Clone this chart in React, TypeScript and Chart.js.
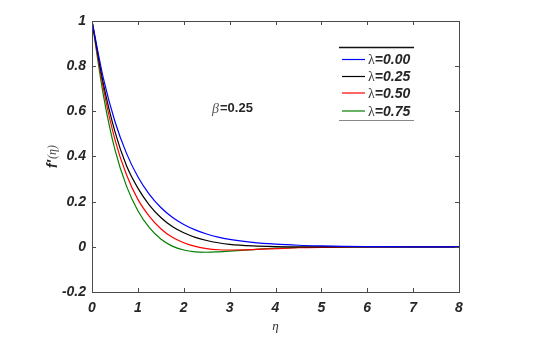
import React, { useEffect, useRef } from "react";
import { Chart, registerables } from "chart.js";

Chart.register(...registerables);

// ---- data ----
const eta = [0, 0.25, 0.5, 0.75, 1, 1.25, 1.5, 1.75, 2, 2.25, 2.5, 2.75, 3, 3.5, 4, 4.5, 5, 5.5, 6, 7, 8];
const lambda000 = [1, 0.745, 0.555, 0.415, 0.31, 0.232, 0.174, 0.131, 0.099, 0.075, 0.057, 0.043, 0.033, 0.02, 0.012, 0.007, 0.004, 0.002, 0.001, 0, 0];
const lambda025 = [1, 0.72, 0.51, 0.36, 0.26, 0.185, 0.13, 0.09, 0.062, 0.042, 0.028, 0.018, 0.011, 0.004, 0.001, 0, 0, 0, 0, 0, 0];
const lambda050 = [1, 0.7, 0.475, 0.32, 0.21, 0.135, 0.08, 0.042, 0.018, 0.002, -0.008, -0.013, -0.014, -0.012, -0.008, -0.004, -0.002, -0.001, 0, 0, 0];
const lambda075 = [1, 0.67, 0.43, 0.27, 0.16, 0.085, 0.035, 0.003, -0.014, -0.022, -0.024, -0.022, -0.019, -0.012, -0.006, -0.003, -0.001, 0, 0, 0, 0];

const seriesValues = [lambda000, lambda025, lambda050, lambda075];
const seriesLabels = ["0.00", "0.25", "0.50", "0.75"];
const seriesColors = ["#0000ff", "#000000", "#ff0000", "#008000"];

const xTicks = [0, 1, 2, 3, 4, 5, 6, 7, 8];
const yTicks = [-0.2, 0, 0.2, 0.4, 0.6, 0.8, 1];
const xTitle = "η";
const yTitleMain = "f'";
const yTitleArg = "(η)";
const annotationSymbol = "β";
const annotationValue = "=0.25";

const AXIS_COLOR = "#4a4a4a";
const TEXT_COLOR = "#262626";

const decorPlugin = {
  id: "matlabDecor",
  afterDraw(chart: any) {
    const { ctx, chartArea: a, scales } = chart;
    const xs = scales.x;
    const ys = scales.y;
    ctx.save();
    // box
    ctx.strokeStyle = AXIS_COLOR;
    ctx.lineWidth = 1;
    ctx.strokeRect(Math.round(a.left) + 0.5, Math.round(a.top) + 0.5, Math.round(a.right - a.left), Math.round(a.bottom - a.top));
    // inward ticks
    const tl = 4;
    ctx.beginPath();
    xTicks.forEach((v) => {
      const px = Math.round(xs.getPixelForValue(v)) + 0.5;
      ctx.moveTo(px, a.bottom);
      ctx.lineTo(px, a.bottom - tl);
      ctx.moveTo(px, a.top);
      ctx.lineTo(px, a.top + tl);
    });
    yTicks.forEach((v) => {
      const py = Math.round(ys.getPixelForValue(v)) + 0.5;
      ctx.moveTo(a.left, py);
      ctx.lineTo(a.left + tl, py);
      ctx.moveTo(a.right, py);
      ctx.lineTo(a.right - tl, py);
    });
    ctx.stroke();

    // x title
    ctx.fillStyle = "#333";
    ctx.font = "italic 13px 'Liberation Serif'";
    ctx.textAlign = "center";
    ctx.textBaseline = "middle";
    ctx.fillText(xTitle, (a.left + a.right) / 2, 327);

    // y title (rotated)
    ctx.save();
    ctx.translate(53, 157);
    ctx.rotate(-Math.PI / 2);
    ctx.textBaseline = "middle";
    ctx.textAlign = "left";
    ctx.font = "bold italic 14px 'Liberation Sans'";
    const w1 = ctx.measureText(yTitleMain).width;
    ctx.font = "italic 12px 'Liberation Serif'";
    const w2 = ctx.measureText(yTitleArg).width;
    const start = -(w1 + w2) / 2;
    ctx.fillStyle = TEXT_COLOR;
    ctx.font = "bold italic 14px 'Liberation Sans'";
    ctx.fillText(yTitleMain, start, 0);
    ctx.fillStyle = "#444";
    ctx.font = "italic 12px 'Liberation Serif'";
    ctx.fillText(yTitleArg, start + w1 + 1, 0);
    ctx.restore();

    // annotation beta
    ctx.textAlign = "left";
    ctx.textBaseline = "middle";
    ctx.fillStyle = "#555";
    ctx.font = "italic 14px 'Liberation Serif'";
    ctx.fillText(annotationSymbol, 212, 109);
    const bw = ctx.measureText(annotationSymbol).width;
    ctx.fillStyle = TEXT_COLOR;
    ctx.font = "bold 13px 'Liberation Sans'";
    ctx.fillText(annotationValue, 213 + bw, 108);

    // legend box
    const lx0 = 339;
    const lx1 = 414;
    const ly0 = 47.5;
    const ly1 = 120.5;
    ctx.fillStyle = "#fff";
    ctx.fillRect(lx0, ly0, lx1 - lx0, ly1 - ly0);
    ctx.strokeStyle = "#111";
    ctx.lineWidth = 1.6;
    ctx.beginPath();
    ctx.moveTo(lx0, ly0);
    ctx.lineTo(lx1, ly0);
    ctx.stroke();
    ctx.strokeStyle = "#888";
    ctx.lineWidth = 1.2;
    ctx.beginPath();
    ctx.moveTo(lx0, ly1);
    ctx.lineTo(lx1, ly1);
    ctx.stroke();
    const rows = [59.5, 76.5, 93, 111];
    chart.data.datasets.forEach((ds: any, i: number) => {
      const y = rows[i];
      ctx.strokeStyle = ds.borderColor;
      ctx.lineWidth = 1.2;
      ctx.beginPath();
      ctx.moveTo(342, y);
      ctx.lineTo(365, y);
      ctx.stroke();
      ctx.fillStyle = "#333";
      ctx.font = "14px 'Liberation Serif'";
      ctx.textAlign = "left";
      ctx.textBaseline = "middle";
      ctx.fillText("λ", 368, y + 1);
      const lw = ctx.measureText("λ").width;
      ctx.fillStyle = TEXT_COLOR;
      ctx.font = "bold italic 14px 'Liberation Sans'";
      ctx.fillText("=" + ds.label, 368 + lw, y + 1);
    });
    ctx.restore();
  },
};

export default function App() {
  const ref = useRef<HTMLCanvasElement | null>(null);
  useEffect(() => {
    if (!ref.current) return;
    const chart = new Chart(ref.current, {
      type: "line",
      data: {
        datasets: seriesValues.map((vals, i) => ({
          label: seriesLabels[i],
          data: vals.map((v, j) => ({ x: eta[j], y: v })),
          borderColor: seriesColors[i],
          backgroundColor: seriesColors[i],
          borderWidth: 1.2,
          pointRadius: 0,
          cubicInterpolationMode: "monotone" as const,
          fill: false,
        })),
      },
      options: {
        responsive: false,
        animation: false,
        devicePixelRatio: 1,
        layout: { padding: { top: 21, right: 90, bottom: 0, left: 0 } },
        plugins: {
          legend: { display: false },
          tooltip: { enabled: false },
        },
        scales: {
          x: {
            type: "linear",
            min: 0,
            max: 8,
            afterBuildTicks: (s: any) => {
              s.ticks = xTicks.map((v) => ({ value: v }));
            },
            afterFit: (s: any) => {
              s.height = 68;
            },
            grid: { display: false, drawTicks: false },
            border: { display: false },
            ticks: {
              padding: 8,
              color: TEXT_COLOR,
              font: { family: "'Liberation Sans'", size: 14, style: "italic", weight: "bold" },
              callback: (v: any) => String(v),
            },
          },
          y: {
            type: "linear",
            min: -0.2,
            max: 1,
            afterBuildTicks: (s: any) => {
              s.ticks = yTicks.map((v) => ({ value: v }));
            },
            afterFit: (s: any) => {
              s.width = 92;
            },
            grid: { display: false, drawTicks: false },
            border: { display: false },
            ticks: {
              padding: 6,
              color: TEXT_COLOR,
              font: { family: "'Liberation Sans'", size: 14, style: "italic", weight: "bold" },
              callback: (v: any) => String(Number(Number(v).toFixed(1))),
            },
          },
        },
      },
      plugins: [decorPlugin],
    });
    return () => chart.destroy();
  }, []);
  return (
    <div style={{ position: "fixed", left: 0, top: 0, width: 549, height: 360, background: "#fff" }}>
      <canvas ref={ref} width={549} height={360} style={{ width: 549, height: 360, display: "block" }} />
    </div>
  );
}
